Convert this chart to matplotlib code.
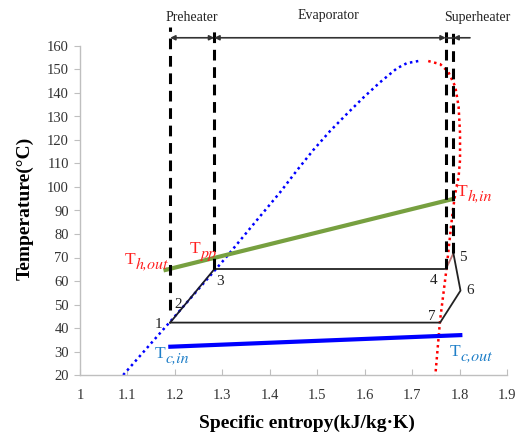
import matplotlib
matplotlib.use("Agg")
import matplotlib.pyplot as plt

plt.rcParams['font.family'] = ['Liberation Serif', 'DejaVu Serif']
plt.rcParams['mathtext.fontset'] = 'stix'

# Saturation dome (liquid, vapour)
liq_s = [1.091, 1.19, 1.306, 1.372, 1.422, 1.457, 1.492, 1.527, 1.562,
         1.597, 1.632, 1.668, 1.689, 1.713]
liq_T = [20, 42.7, 69.6, 85.7, 97.8, 107.0, 115.8, 123.8, 131.0,
         138.0, 144.5, 150.5, 152.7, 153.6]
vap_s = [1.734, 1.759, 1.776, 1.791, 1.798, 1.801, 1.801, 1.798, 1.791, 1.786,
         1.782, 1.773, 1.759, 1.749]
vap_T = [153.6, 152.3, 149.1, 142.7, 134.2, 122.9, 111.5, 104.4, 97.3, 90.2,
         83.1, 66.0, 43.4, 20.0]

# Cycle state points 1..7
cyc_s = [1.19, 1.20, 1.283, 1.771, 1.787, 1.802, 1.759]
cyc_T = [42.3, 45.0, 65.0, 65.0, 71.8, 55.9, 42.3]

# Heat source / sink lines
hot_s = [1.176, 1.788]
hot_T = [64.5, 95.0]
cold_s = [1.186, 1.806]
cold_T = [32.0, 37.0]

# Section boundaries
bound_s = [1.19, 1.283, 1.771, 1.787]
bound_Tlow = [47.5, 65.0, 65.0, 71.8]

xticks = [1, 1.1, 1.2, 1.3, 1.4, 1.5, 1.6, 1.7, 1.8, 1.9]
xticklabels = ['1', '1.1', '1.2', '1.3', '1.4', '1.5', '1.6', '1.7', '1.8', '1.9']
yticks = list(range(20, 161, 10))

fig = plt.figure(figsize=(5.21, 4.36), dpi=100)
ax = fig.add_axes([80/521, 1-375/436, 427/521, 329/436])
ax.set_xlim(1, 1.9)
ax.set_ylim(20, 160)

ax.plot(liq_s, liq_T, color='#0000ff', linestyle=(0, (1, 1.4)), lw=1.8)
ax.plot(vap_s, vap_T, color='#ff0000', linestyle=(0, (1, 1.4)), lw=1.8)

ax.plot(hot_s, hot_T, color='#77a040', lw=3.0, solid_capstyle='butt')
ax.plot(cold_s, cold_T, color='#0000ff', lw=3.0, solid_capstyle='butt')

# cycle lines
ax.plot([cyc_s[0], cyc_s[2]], [cyc_T[0], cyc_T[2]], color='#1a1a2e', lw=1.3)
ax.plot([cyc_s[2], cyc_s[3]], [cyc_T[2], cyc_T[3]], color='#222222', lw=1.3)
ax.plot([cyc_s[3], cyc_s[4]], [cyc_T[3], cyc_T[4]], color='#c07878', lw=1.3)
ax.plot([cyc_s[4], cyc_s[5], cyc_s[6], cyc_s[0]], [cyc_T[4], cyc_T[5], cyc_T[6], cyc_T[0]],
        color='#222222', lw=1.3)

# dashed section boundaries
for s, tl in zip(bound_s, bound_Tlow):
    ax.plot([s, s], [tl, 168], color='black', lw=2.2, linestyle=(0, (3.5, 2.2)), clip_on=False)

# arrows
arr_T = 163.5
arrs = [(bound_s[0], bound_s[1]), (bound_s[1], bound_s[2])]
for a, b in arrs:
    ax.annotate('', xy=(b, arr_T), xytext=(a, arr_T), annotation_clip=False,
                arrowprops=dict(arrowstyle='<|-|>', color='#333333', lw=1.2,
                                mutation_scale=7, shrinkA=0, shrinkB=0))
ax.plot([bound_s[2], bound_s[3]], [arr_T, arr_T], color='#333333', lw=1.2, clip_on=False)
ax.annotate('', xy=(bound_s[3], arr_T), xytext=(1.822, arr_T), annotation_clip=False,
            arrowprops=dict(arrowstyle='-|>', color='#333333', lw=1.2,
                            mutation_scale=7, shrinkA=0, shrinkB=0))

ax.text(1.236, 172, 'Preheater', ha='center', va='center', fontsize=10, color='#222222')
ax.text(1.523, 172.8, 'Evaporator', ha='center', va='center', fontsize=10, color='#222222')
ax.text(1.837, 172.3, 'Superheater', ha='center', va='center', fontsize=10, color='#222222')

red = '#ff2020'
blue = '#1f7fc8'


def tlabel(x, y, sub, color):
    ax.text(x, y, 'T', color=color, fontsize=12.5, ha='left', va='center')
    ax.annotate(sub, xy=(x, y), xytext=(7.6, -3.2), textcoords='offset points',
                color=color, fontsize=11.5, ha='left', va='center',
                family='STIXGeneral', style='italic', annotation_clip=False)


tlabel(1.095, 68.9, 'h,out', red)
tlabel(1.232, 73.6, 'pp', red)
tlabel(1.794, 98.0, 'h,in', red)
tlabel(1.158, 28.9, 'c,in', blue)
tlabel(1.780, 29.9, 'c,out', blue)

num_s = [1.165, 1.206, 1.295, 1.745, 1.806, 1.822, 1.741]
num_T = [41.3, 49.8, 59.7, 60.4, 70.0, 55.9, 45.0]
for i, (s, t) in enumerate(zip(num_s, num_T)):
    ax.text(s, t, str(i + 1), fontsize=11, ha='center', va='center', color='#222222')

ax.set_xticks(xticks)
ax.set_xticklabels(xticklabels)
ax.set_yticks(yticks)
for sp in ['top', 'right']:
    ax.spines[sp].set_visible(False)
for sp in ['left', 'bottom']:
    ax.spines[sp].set_color('#bfbfbf')
    ax.spines[sp].set_linewidth(1.0)
ax.tick_params(axis='y', direction='out', length=4, color='#bfbfbf', labelsize=10.5,
               labelcolor='#333333', pad=4)
ax.tick_params(axis='x', direction='in', length=4, color='#bfbfbf', labelsize=10.5,
               labelcolor='#333333', pad=10)

fig.text(307/521, 1-423/436, 'Specific entropy(kJ/kg·K)', fontsize=14, fontweight='bold',
         ha='center', va='center')
fig.text(25/521, 1-208/436, 'Temperature(°C)', fontsize=14, fontweight='bold',
         ha='center', va='center', rotation=90)

fig.savefig('out.png', dpi=100)
